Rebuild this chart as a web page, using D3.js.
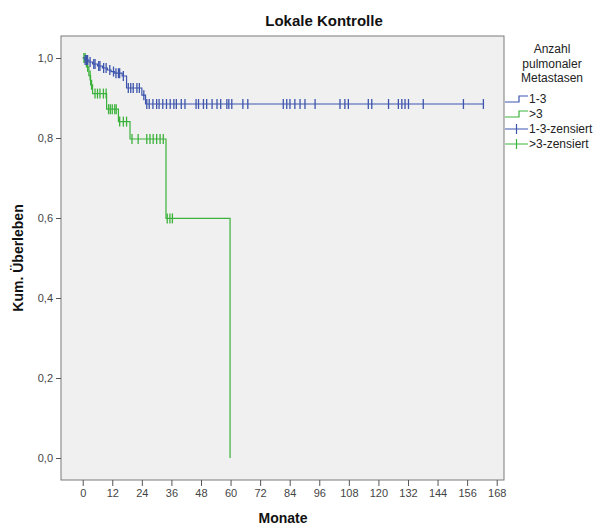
<!DOCTYPE html>
<html>
<head>
<meta charset="utf-8">
<script src="https://cdn.jsdelivr.net/npm/d3@7/dist/d3.min.js"></script>
<style>
  body { margin: 0; background: #fff; }
  svg text { font-family: "Liberation Sans", Arial, sans-serif; }
</style>
</head>
<body>
<svg id="chart" width="595" height="528"></svg>
<script>
// Chart data

const title = 'Lokale Kontrolle'
const xLabel = 'Monate'
const yLabel = 'Kum. Überleben'
const legendTitle = ['Anzahl', 'pulmonaler', 'Metastasen']
const groups = ['1-3', '>3']
const groupColors = ['#3d55ad', '#3cb23c']

const xTicks = [0, 12, 24, 36, 48, 60, 72, 84, 96, 108, 120, 132, 144, 156, 168]
const yTicks = [0, 0.2, 0.4, 0.6, 0.8, 1.0]

// 1-3 metastases: event times and survival after each step
const blueTimes = [0, 1, 2.5, 4, 6, 8, 10, 11.5, 13, 16, 17.8, 24, 25.5]
const blueSurv  = [1.0, 0.995, 0.99, 0.985, 0.98, 0.975, 0.97, 0.966, 0.962, 0.955, 0.925, 0.907, 0.885]
const blueCensored = [1, 1.5, 2, 3, 4.5, 5, 6.5, 7, 8.5, 9.5, 11, 12.5, 13.5, 14.5, 15, 16.5,
  18.5, 19.5, 20.5, 22, 23, 24.8, 26, 27, 28.5, 30, 31, 32.5, 34, 35.5, 37, 38, 40, 41.5,
  46, 47, 49, 50.3, 52.5, 54.5, 56, 58.5, 59.3, 60.5, 65, 67,
  81.4, 82.8, 84.1, 86.1, 88.2, 90.2, 94.3, 104.4, 106.4, 107.8, 115.9, 117.3,
  124.1, 128.1, 129.5, 130.8, 132.2, 138.2, 154.5, 162.6]
const blueEnd = 162.6

// >3 metastases
const greenTimes = [0, 1.5, 2.5, 3.2, 4, 9.7, 14.5, 19.2, 33.8, 59.8]
const greenSurv  = [1.0, 0.978, 0.956, 0.933, 0.911, 0.872, 0.841, 0.7975, 0.599, 0.0]
const greenCensored = [0.5, 1, 2, 3, 3.6, 5, 6, 7, 8.4, 9.5, 10.5, 11.2, 12, 13, 13.6,
  15, 16.5, 17.8, 20, 22.5, 26, 27.3, 28.6, 30, 31.4, 32.7, 34.3, 35.4, 36.4]
const greenEnd = 59.8

//////////////////////////////////////////////////////////////////////////////////////////
// Layout
//////////////////////////////////////////////////////////////////////////////////////////

const svg = d3.select('#chart')
const frame = { left: 61, right: 504, top: 36, bottom: 480 }

const x = d3.scaleLinear().domain([0, 168]).range([82.7, 496.7])
const y = d3.scaleLinear().domain([0, 1]).range([458, 58])

const fmt = d => d3.format('.1f')(d).replace('.', ',')

// plot background
svg.append('rect')
  .attr('x', frame.left)
  .attr('y', frame.top)
  .attr('width', frame.right - frame.left)
  .attr('height', frame.bottom - frame.top)
  .attr('fill', '#f0f0f0')
  .attr('stroke', '#7a7a7a')
  .attr('stroke-width', 1)

// title
svg.append('text')
  .attr('x', 324)
  .attr('y', 26)
  .attr('text-anchor', 'middle')
  .attr('font-size', 15)
  .attr('font-weight', 'bold')
  .attr('fill', '#111')
  .text(title)

//////////////////////////////////////////////////////////////////////////////////////////
// Axes
//////////////////////////////////////////////////////////////////////////////////////////

const xAxis = svg.append('g')
  .attr('transform', 'translate(0,' + frame.bottom + ')')
  .call(d3.axisBottom(x).tickValues(xTicks).tickSize(6).tickPadding(3).tickFormat(d3.format('d')))
xAxis.select('.domain').remove()

const yAxis = svg.append('g')
  .attr('transform', 'translate(' + frame.left + ',0)')
  .call(d3.axisLeft(y).tickValues(yTicks).tickSize(5).tickPadding(3).tickFormat(fmt))
yAxis.select('.domain').remove()

svg.selectAll('.tick line').attr('stroke', '#555')
svg.selectAll('.tick text')
  .attr('font-size', 11)
  .attr('fill', '#444')
  .attr('font-family', '"Liberation Sans", Arial, sans-serif')

svg.append('text')
  .attr('x', 283)
  .attr('y', 523)
  .attr('text-anchor', 'middle')
  .attr('font-size', 14)
  .attr('font-weight', 'bold')
  .attr('fill', '#111')
  .text(xLabel)

svg.append('text')
  .attr('transform', 'translate(23,258) rotate(-90)')
  .attr('text-anchor', 'middle')
  .attr('font-size', 14)
  .attr('font-weight', 'bold')
  .attr('fill', '#111')
  .text(yLabel)

//////////////////////////////////////////////////////////////////////////////////////////
// Survival curves
//////////////////////////////////////////////////////////////////////////////////////////

function survAt(times, surv, t) {
  let s = surv[0]
  for (let i = 0; i < times.length; i++) {
    if (times[i] <= t) s = surv[i]
  }
  return s
}

function draw_curve(times, surv, censored, end, color) {
  const pts = times.map((t, i) => [t, surv[i]])
  if (end > times[times.length - 1]) pts.push([end, surv[surv.length - 1]])

  const line = d3.line()
    .x(d => x(d[0]))
    .y(d => y(d[1]))
    .curve(d3.curveStepAfter)

  svg.append('path')
    .datum(pts)
    .attr('d', line)
    .attr('fill', 'none')
    .attr('stroke', color)
    .attr('stroke-width', 1.2)

  svg.append('g')
    .selectAll('line')
    .data(censored)
    .join('line')
    .attr('x1', d => x(d))
    .attr('x2', d => x(d))
    .attr('y1', d => y(survAt(times, surv, d)) - 5)
    .attr('y2', d => y(survAt(times, surv, d)) + 5)
    .attr('stroke', color)
    .attr('stroke-width', 1.3)
}

draw_curve(greenTimes, greenSurv, greenCensored, greenEnd, groupColors[1])
draw_curve(blueTimes, blueSurv, blueCensored, blueEnd, groupColors[0])

//////////////////////////////////////////////////////////////////////////////////////////
// Legend
//////////////////////////////////////////////////////////////////////////////////////////

const legend = svg.append('g')

legend.selectAll('text.title')
  .data(legendTitle)
  .join('text')
  .attr('class', 'title')
  .attr('x', 552)
  .attr('y', (d, i) => 53 + i * 14.5)
  .attr('text-anchor', 'middle')
  .attr('font-size', 12)
  .attr('fill', '#222')
  .text(d => d)

const items = [
  { label: groups[0], color: groupColors[0], censor: false },
  { label: groups[1], color: groupColors[1], censor: false },
  { label: groups[0] + '-zensiert', color: groupColors[0], censor: true },
  { label: groups[1] + '-zensiert', color: groupColors[1], censor: true }
]

items.forEach((it, i) => {
  const yy = 99 + i * 15
  if (it.censor) {
    legend.append('line')
      .attr('x1', 505).attr('x2', 528).attr('y1', yy).attr('y2', yy)
      .attr('stroke', it.color).attr('stroke-width', 1)
    legend.append('line')
      .attr('x1', 516.5).attr('x2', 516.5).attr('y1', yy - 5).attr('y2', yy + 5)
      .attr('stroke', it.color).attr('stroke-width', 1.2)
  } else {
    legend.append('path')
      .attr('d', 'M505,' + (yy + 3) + 'H519V' + (yy - 3) + 'H528')
      .attr('fill', 'none')
      .attr('stroke', it.color).attr('stroke-width', 1.2)
  }
  legend.append('text')
    .attr('x', 529)
    .attr('y', yy + 4)
    .attr('font-size', 12)
    .attr('fill', '#222')
    .text(it.label)
})
</script>
</body>
</html>
